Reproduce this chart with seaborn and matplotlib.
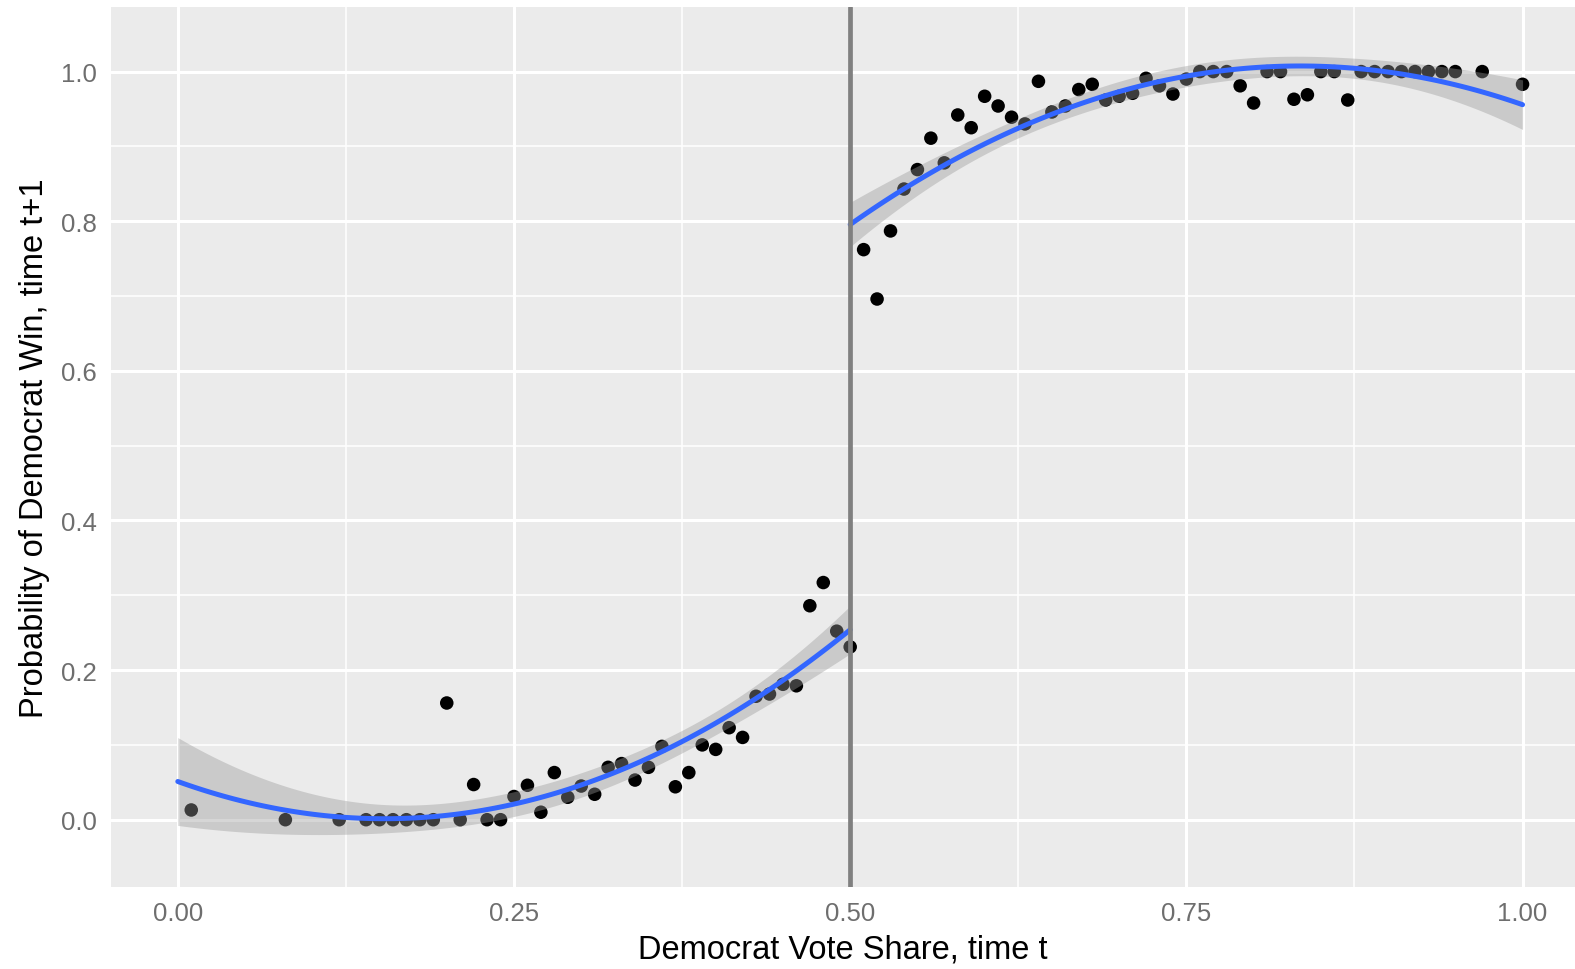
import numpy as np
import pandas as pd
import matplotlib
matplotlib.use("Agg")
import matplotlib.pyplot as plt
import seaborn as sns

# binned means
left_x = [0.01, 0.08, 0.12, 0.14, 0.15, 0.16, 0.17, 0.18, 0.19, 0.20,
          0.21, 0.22, 0.23, 0.24, 0.25, 0.26, 0.27, 0.28, 0.29, 0.30,
          0.31, 0.32, 0.33, 0.34, 0.35, 0.36, 0.37, 0.38, 0.39, 0.40,
          0.41, 0.42, 0.43, 0.44, 0.45, 0.46, 0.47, 0.48, 0.49, 0.50]
left_y = [0.013, 0.0, 0.0, 0.0, 0.0, 0.0, 0.0, 0.0, 0.0, 0.156,
          0.0, 0.047, 0.0, 0.0, 0.031, 0.046, 0.010, 0.063, 0.030, 0.045,
          0.034, 0.070, 0.075, 0.053, 0.070, 0.098, 0.044, 0.063, 0.100, 0.094,
          0.123, 0.110, 0.165, 0.168, 0.181, 0.179, 0.286, 0.317, 0.252, 0.231]

right_x = [0.51, 0.52, 0.53, 0.54, 0.55, 0.56, 0.57, 0.58, 0.59, 0.60,
           0.61, 0.62, 0.63, 0.64, 0.65, 0.66, 0.67, 0.68, 0.69, 0.70,
           0.71, 0.72, 0.73, 0.74, 0.75, 0.76, 0.77, 0.78, 0.79, 0.80,
           0.81, 0.82, 0.83, 0.84, 0.85, 0.86, 0.87, 0.88, 0.89, 0.90,
           0.91, 0.92, 0.93, 0.94, 0.95, 0.97, 1.00]
right_y = [0.762, 0.696, 0.787, 0.843, 0.869, 0.911, 0.878, 0.942, 0.925, 0.967,
           0.954, 0.939, 0.930, 0.987, 0.946, 0.954, 0.976, 0.983, 0.962, 0.967,
           0.971, 0.991, 0.981, 0.970, 0.990, 1.0, 1.0, 1.0, 0.981, 0.958,
           1.0, 1.0, 0.963, 0.969, 1.0, 1.0, 0.962, 1.0, 1.0, 1.0,
           1.0, 1.0, 1.0, 1.0, 1.0, 1.0, 0.983]

x_breaks = [0.0, 0.25, 0.5, 0.75, 1.0]
x_labels = ["0.00", "0.25", "0.50", "0.75", "1.00"]
y_breaks = [0.0, 0.2, 0.4, 0.6, 0.8, 1.0]
y_labels = ["0.0", "0.2", "0.4", "0.6", "0.8", "1.0"]
cutoff = 0.5


def quad_fit(x, y, lo, hi, n=120):
    # second order OLS fit with 95% band, like geom_smooth(method="lm")
    x = np.asarray(x)
    y = np.asarray(y)
    X = np.vander(x, 3)
    beta, *_ = np.linalg.lstsq(X, y, rcond=None)
    resid = y - X @ beta
    s2 = resid @ resid / (len(x) - 3)
    cov = s2 * np.linalg.inv(X.T @ X)
    grid = np.linspace(lo, hi, n)
    G = np.vander(grid, 3)
    fit = G @ beta
    se = np.sqrt(np.einsum("ij,jk,ik->i", G, cov, G))
    return pd.DataFrame({"x": grid, "fit": fit, "lo": fit - 2.02 * se, "hi": fit + 2.02 * se})


points = pd.DataFrame({
    "share": left_x + right_x,
    "win": left_y + right_y,
})
fit_left = quad_fit(left_x, left_y, 0.0, cutoff)
fit_right = quad_fit(right_x, right_y, cutoff, 1.0)

sns.set_theme(style="darkgrid", rc={
    "axes.facecolor": "#EBEBEB",
    "grid.color": "white",
    "axes.edgecolor": "#EBEBEB",
})
plt.rcParams["font.family"] = ["Liberation Sans", "DejaVu Sans"]

fig, ax = plt.subplots(figsize=(15.75, 9.7), dpi=100)
fig.subplots_adjust(left=0.0702, right=1.0, bottom=0.0845, top=0.9915)

sns.scatterplot(data=points, x="share", y="win", color="black", s=95,
                edgecolor="none", ax=ax, zorder=3)

for fit in (fit_left, fit_right):
    ax.fill_between(fit["x"], fit["lo"], fit["hi"], color="#999999", alpha=0.4,
                    linewidth=0, zorder=4)
    sns.lineplot(data=fit, x="x", y="fit", color="#3366FF", linewidth=3.6,
                 ax=ax, zorder=5)

ax.axvline(cutoff, color="#808080", linewidth=3.4, zorder=6)

ax.set_xlim(-0.05, 1.039)
ax.set_ylim(-0.09, 1.086)
ax.set_xticks(x_breaks)
ax.set_xticklabels(x_labels)
ax.set_yticks(y_breaks)
ax.set_yticklabels(y_labels)
ax.set_xticks([0.125, 0.375, 0.625, 0.875], minor=True)
ax.set_yticks([0.1, 0.3, 0.5, 0.7, 0.9], minor=True)
ax.grid(which="major", color="white", linewidth=2.2)
ax.grid(which="minor", color="white", linewidth=1.1)
ax.tick_params(which="major", length=6, width=1.2, color="#333333",
               labelsize=18.5, labelcolor="#6E6E6E", pad=4)
ax.tick_params(which="minor", length=0)
for s in ax.spines.values():
    s.set_visible(False)

ax.set_xlabel("Democrat Vote Share, time t", fontsize=23.5, color="black", labelpad=6)
ax.set_ylabel("Probability of Democrat Win, time t+1", fontsize=23.5, color="black", labelpad=8)

fig.savefig("out.png", dpi=100)
